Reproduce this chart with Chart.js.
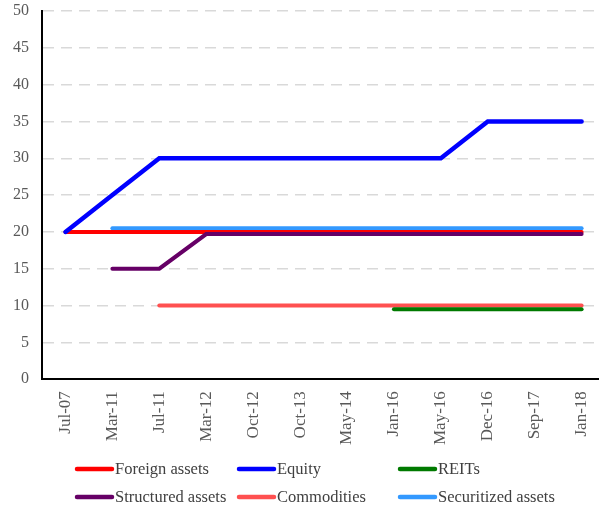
<!DOCTYPE html>
<html>
<head>
<meta charset="utf-8">
<script src="https://cdn.jsdelivr.net/npm/chart.js@4.4.1/dist/chart.umd.min.js"></script>
<style>
  html, body { margin:0; padding:0; background:#fff; overflow:hidden; }
  #c { display:block; }
</style>
</head>
<body>
<canvas id="c" width="614" height="512"></canvas>
<script>
// categories (x axis)
const dates = ["Jul-07","Mar-11","Jul-11","Mar-12","Oct-12","Oct-13","May-14","Jan-16","May-16","Dec-16","Sep-17","Jan-18"];

// series values, null = no value yet
const foreignAssets    = [20, 20, 20, 20, 20, 20, 20, 20, 20, 20, 20, 20];
const equity           = [20, 25, 30, 30, 30, 30, 30, 30, 30, 35, 35, 35];
const reits            = [null, null, null, null, null, null, null, 9.5, 9.5, 9.5, 9.5, 9.5];
const structuredAssets = [null, 15, 15, 19.7, 19.7, 19.7, 19.7, 19.7, 19.7, 19.7, 19.7, 19.7];
const commodities      = [null, null, 10, 10, 10, 10, 10, 10, 10, 10, 10, 10];
const securitized      = [null, 20.5, 20.5, 20.5, 20.5, 20.5, 20.5, 20.5, 20.5, 20.5, 20.5, 20.5];

const yTicks = [0, 5, 10, 15, 20, 25, 30, 35, 40, 45, 50];

const serif = "'Liberation Serif', 'Times New Roman', serif";

// legend drawn by hand: 3 columns, 2 rows
const legendPlugin = {
    id: "gridLegend",
    afterDraw: function(chart){
        const ctx = chart.ctx;
        const cols = [75, 237, 398];
        const rows = [469, 497];
        const order = chart.data.datasets.slice().sort(function(a, b){ return a.legendIdx - b.legendIdx; });
        ctx.save();
        ctx.font = "16.5px " + serif;
        ctx.textBaseline = "middle";
        ctx.textAlign = "left";
        for(let i=0; i<order.length; i++){
            let x = cols[i % 3];
            let y = rows[Math.floor(i / 3)];
            ctx.strokeStyle = order[i].borderColor;
            ctx.lineWidth = 4.5;
            ctx.lineCap = "round";
            ctx.beginPath();
            ctx.moveTo(x + 2, y);
            ctx.lineTo(x + 37, y);
            ctx.stroke();
            ctx.fillStyle = "#404040";
            ctx.fillText(order[i].label, x + 40, y + 1);
        }
        ctx.restore();
    }
};

function line(label, data, color, width, idx, order){
    return {
        label: label,
        data: data,
        borderColor: color,
        backgroundColor: color,
        borderWidth: width,
        pointRadius: 0,
        pointHoverRadius: 0,
        tension: 0,
        spanGaps: false,
        borderCapStyle: "round",
        legendIdx: idx,
        order: order
    };
}

new Chart(document.getElementById("c"), {
    type: "line",
    data: {
        labels: dates,
        datasets: [
            line("Foreign assets", foreignAssets, "#ff0000", 4, 0, 3),
            line("Equity", equity, "#0000ff", 4.5, 1, 0),
            line("REITs", reits, "#007a00", 4, 2, 5),
            line("Structured assets", structuredAssets, "#660066", 4, 3, 2),
            line("Commodities", commodities, "#ff5050", 4, 4, 6),
            line("Securitized assets", securitized, "#3399ff", 4, 5, 4)
        ]
    },
    options: {
        responsive: false,
        animation: false,
        events: [],
        layout: { padding: { top: 11, right: 0, bottom: 55, left: 0 } },
        plugins: {
            legend: { display: false },
            tooltip: { enabled: false }
        },
        scales: {
            x: {
                offset: true,
                grid: { display: false, drawTicks: false },
                border: { display: true, color: "#000", width: 2 },
                ticks: {
                    maxRotation: 90,
                    minRotation: 90,
                    autoSkip: false,
                    padding: 12,
                    color: "#595959",
                    font: { family: serif, size: 17 }
                }
            },
            y: {
                min: 0,
                max: 50,
                afterBuildTicks: function(axis){
                    axis.ticks = yTicks.map(function(v){ return { value: v }; });
                },
                afterFit: function(axis){
                    // let the top label hang over the padding
                    axis.paddingTop = 0;
                },
                grid: { color: "#d9d9d9", lineWidth: 1.5, drawTicks: false },
                border: { display: true, color: "#000", width: 2, dash: [11, 7] },
                ticks: {
                    padding: 13,
                    color: "#595959",
                    font: { family: serif, size: 16 }
                }
            }
        }
    },
    plugins: [legendPlugin]
});
</script>
</body>
</html>
